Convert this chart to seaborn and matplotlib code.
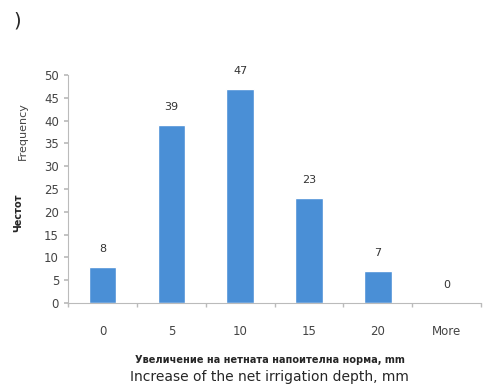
import matplotlib
matplotlib.use("Agg")
import matplotlib.pyplot as plt
import seaborn as sns
import pandas as pd

# data
bins = ["0", "5", "10", "15", "20", "More"]
frequency = [8, 39, 47, 23, 7, 0]
y_ticks = [0, 5, 10, 15, 20, 25, 30, 35, 40, 45, 50]

df = pd.DataFrame({"bin": bins, "freq": frequency})

sns.set_theme(style="white")
plt.rcParams["font.family"] = ["DejaVu Sans"]

fig = plt.figure(figsize=(4.86, 3.85), dpi=100)
ax = fig.add_axes([0.14, 0.213, 0.85, 0.592])

sns.barplot(data=df, x="bin", y="freq", color="#4a8fd6", saturation=1,
            width=0.4, ax=ax)

for i, v in enumerate(frequency):
    ax.text(i, v + 2.8, str(v), ha="center", va="bottom", fontsize=8, color="#333333")

ax.set_ylim(0, 50)
ax.set_yticks(y_ticks)
ax.set_xlim(-0.5, len(bins) - 0.5)
ax.set_xlabel("")
ax.set_ylabel("")
ax.tick_params(axis="both", labelsize=8.5, colors="#444444", length=3, direction="out")
ax.tick_params(axis="x", pad=16)
for s in ["top", "right"]:
    ax.spines[s].set_visible(False)
for s in ["left", "bottom"]:
    ax.spines[s].set_color("#bbbbbb")
    ax.spines[s].set_linewidth(0.8)
ax.xaxis.set_ticks_position("bottom")
ax.yaxis.set_ticks_position("left")
ax.set_xticks([i - 0.5 for i in range(len(bins) + 1)], minor=True)
ax.tick_params(axis="x", which="minor", length=3, color="#bbbbbb")
ax.tick_params(axis="x", which="major", length=0)
ax.tick_params(axis="y", color="#bbbbbb")

fig.text(0.027, 0.945, ")", fontsize=14, ha="left", va="center")
fig.text(0.037, 0.447, "Честот", rotation=90, fontsize=7, fontweight="bold",
         ha="center", va="center")
fig.text(0.047, 0.66, "Frequency", rotation=90, fontsize=8,
         ha="center", va="center", color="#444444")
fig.text(0.555, 0.065, "Увеличение на нетната напоителна норма, mm",
         fontsize=7, fontweight="bold", ha="center", va="center")
fig.text(0.555, 0.02, "Increase of the net irrigation depth, mm",
         fontsize=10, ha="center", va="center")

fig.savefig("out.png", dpi=100)
